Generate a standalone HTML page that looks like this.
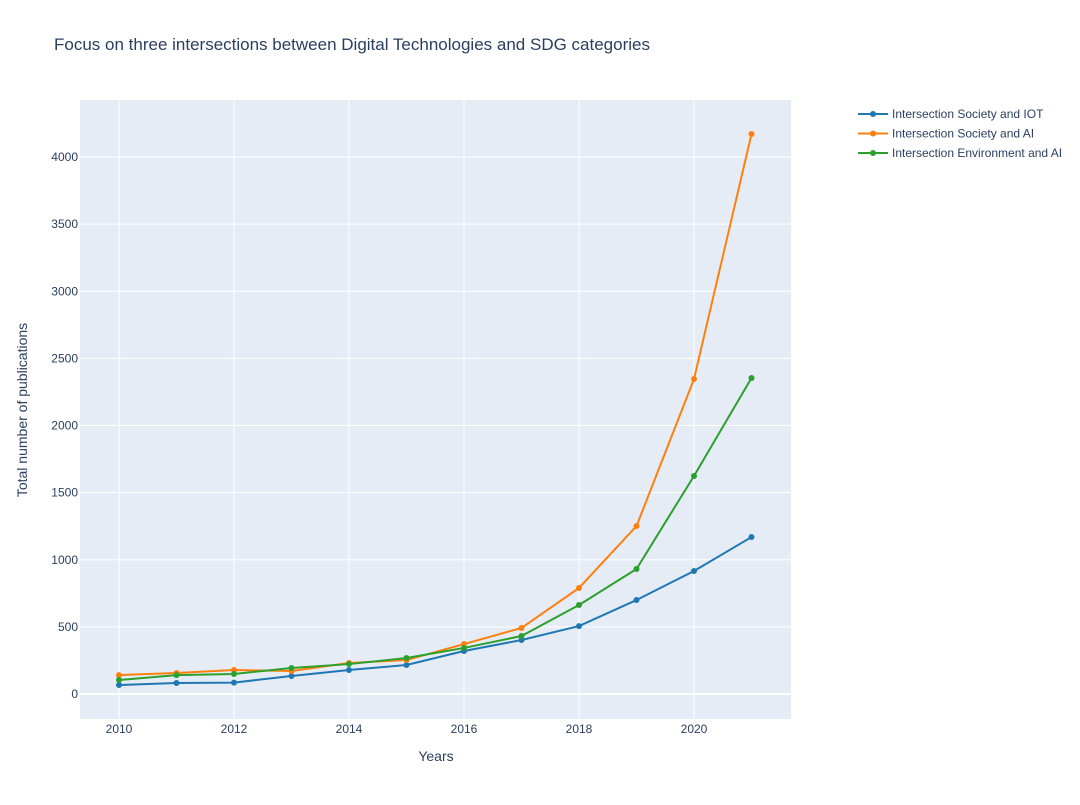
<!DOCTYPE html>
<html><head><meta charset="utf-8"><style>
body{margin:0;background:#fff;font-family:"Liberation Sans",Arial,sans-serif;}
svg text{font-family:"Liberation Sans",Arial,sans-serif;fill:#2a3f5f;}
</style></head><body>
<svg id="chart" width="1080" height="800">
<rect x="0" y="0" width="1080" height="800" fill="#fff"/>
<text x="54" y="50" font-size="17">Focus on three intersections between Digital Technologies and SDG categories</text>
<rect x="80" y="100" width="711" height="619" fill="#e5ecf6"/>
<g id="grid"></g><g id="series"></g><g id="ticks"></g>
<text x="436" y="761" font-size="14" text-anchor="middle">Years</text>
<text transform="translate(27,410) rotate(-90)" font-size="14" text-anchor="middle">Total number of publications</text>
<g id="legend"></g>
</svg>
<script>
const years=[2010,2011,2012,2013,2014,2015,2016,2017,2018,2019,2020,2021];
const iot=[67,82,85,134,179,216,320,402,506,700,916,1169];
const societyAI=[141,156,179,171,231,253,372,492,790,1251,2346,4171];
const envAI=[104,141,149,194,223,268,343,432,663,931,1624,2354];
const xTicks=[2010,2012,2014,2016,2018,2020];
const yTicks=[0,500,1000,1500,2000,2500,3000,3500,4000];
const seriesNames=["Intersection Society and IOT","Intersection Society and AI","Intersection Environment and AI"];
const colors=["#1f77b4","#ff7f0e","#2ca02c"];
const NS="http://www.w3.org/2000/svg";
const xS=v=>119+(v-2010)*57.5;
const yS=v=>694-v*0.13425;
function mk(t,a,p){const e=document.createElementNS(NS,t);for(const k in a)e.setAttribute(k,a[k]);p.appendChild(e);return e;}
const grid=document.getElementById('grid'),ticks=document.getElementById('ticks');
xTicks.forEach(t=>{
 const l=mk('line',{x1:xS(t),x2:xS(t),y1:100,y2:719,stroke:'#fff','stroke-width':1},grid);
 
 
 const tx=mk('text',{x:xS(t),y:733,'font-size':12,'text-anchor':'middle'},ticks);
 tx.textContent=t;
 
 
});
yTicks.forEach(t=>{
 const l=mk('line',{x1:80,x2:791,y1:yS(t),y2:yS(t),stroke:'#fff','stroke-width':t===0?2:1},grid);
 
 
 const tx=mk('text',{x:78,y:yS(t)+4,'font-size':12,'text-anchor':'end'},ticks);
 tx.textContent=t;
 
 
});
const sg=document.getElementById('series'),lg=document.getElementById('legend');
[iot,societyAI,envAI].forEach((vals,i)=>{
 const p=mk('polyline',{points:vals.map((v,j)=>xS(years[j])+','+yS(v)).join(' '),fill:'none',stroke:colors[i],'stroke-width':2},sg);
 
 
 vals.forEach((v,j)=>{
  const c=mk('circle',{cx:xS(years[j]),cy:yS(v),r:3,fill:colors[i]},sg);
  
  
 });
 const y=114+i*19.5;
 const g=mk('g',{},lg);
 
 
 mk('line',{x1:858,x2:888,y1:y,y2:y,stroke:colors[i],'stroke-width':2},g);
 mk('circle',{cx:873,cy:y,r:3,fill:colors[i]},g);
 const t=mk('text',{x:892,y:y+4,'font-size':12},g);
 t.textContent=seriesNames[i];
});
</script>
</body></html>
